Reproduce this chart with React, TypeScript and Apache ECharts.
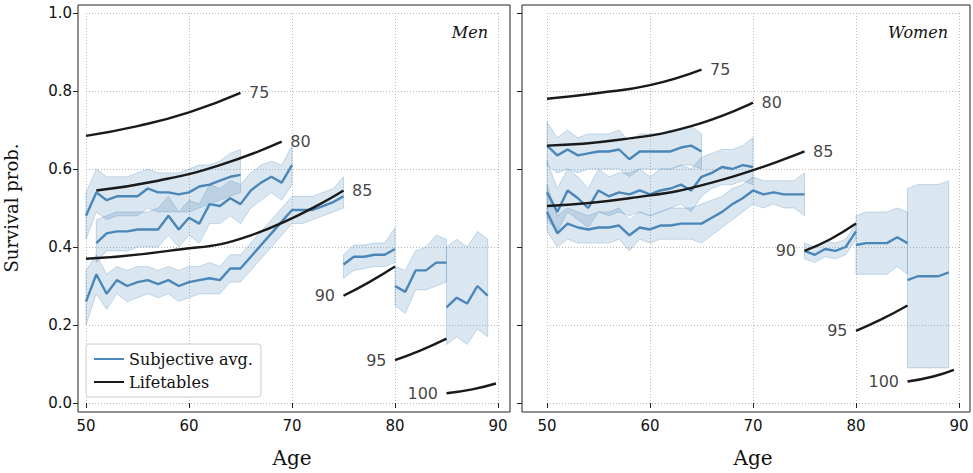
import { useEffect, useRef } from 'react'
import * as echarts from 'echarts'

// subjective averages, one group per target age; start = first age
const menStarts = [50, 51, 50, 75, 80, 85]
const menAvg = [
  [0.48, 0.54, 0.52, 0.53, 0.53, 0.53, 0.55, 0.54, 0.54, 0.535, 0.54, 0.555, 0.56, 0.57, 0.58, 0.585],
  [0.41, 0.435, 0.44, 0.44, 0.445, 0.445, 0.445, 0.48, 0.445, 0.475, 0.46, 0.51, 0.505, 0.525, 0.51, 0.545, 0.565, 0.58, 0.565, 0.61],
  [0.26, 0.33, 0.28, 0.315, 0.3, 0.31, 0.315, 0.305, 0.315, 0.3, 0.31, 0.315, 0.32, 0.315, 0.345, 0.345, 0.375, 0.405, 0.435, 0.465, 0.495, 0.495, 0.495, 0.505, 0.515, 0.53],
  [0.355, 0.375, 0.375, 0.38, 0.38, 0.395],
  [0.3, 0.285, 0.34, 0.34, 0.36, 0.36],
  [0.245, 0.27, 0.255, 0.3, 0.275],
]
const menLo = [
  [0.42, 0.49, 0.47, 0.48, 0.48, 0.48, 0.5, 0.49, 0.49, 0.49, 0.49, 0.5, 0.51, 0.52, 0.53, 0.54],
  [0.36, 0.39, 0.39, 0.39, 0.4, 0.4, 0.4, 0.43, 0.4, 0.43, 0.41, 0.46, 0.46, 0.48, 0.46, 0.5, 0.52, 0.54, 0.52, 0.56],
  [0.2, 0.28, 0.24, 0.28, 0.26, 0.27, 0.28, 0.27, 0.28, 0.26, 0.27, 0.28, 0.28, 0.28, 0.31, 0.31, 0.34, 0.37, 0.4, 0.43, 0.46, 0.46, 0.47, 0.48, 0.49, 0.5],
  [0.32, 0.34, 0.345, 0.35, 0.35, 0.36],
  [0.25, 0.23, 0.29, 0.29, 0.3, 0.31],
  [0.15, 0.17, 0.15, 0.19, 0.17],
]
const menHi = [
  [0.54, 0.6, 0.58, 0.58, 0.58, 0.59, 0.6, 0.59, 0.59, 0.59, 0.6, 0.61, 0.61, 0.62, 0.64, 0.65],
  [0.47, 0.48, 0.49, 0.49, 0.49, 0.49, 0.5, 0.53, 0.49, 0.52, 0.51, 0.56, 0.55, 0.57, 0.56, 0.59, 0.61, 0.62, 0.61, 0.66],
  [0.34, 0.38, 0.33, 0.35, 0.34, 0.35, 0.35, 0.34, 0.35, 0.34, 0.35, 0.35, 0.36, 0.35, 0.38, 0.38, 0.41, 0.44, 0.47, 0.5, 0.53, 0.53, 0.53, 0.54, 0.55, 0.58],
  [0.38, 0.405, 0.405, 0.41, 0.41, 0.45],
  [0.35, 0.34, 0.39, 0.4, 0.43, 0.42],
  [0.4, 0.42, 0.4, 0.44, 0.42],
]

const womenStarts = [50, 50, 50, 75, 80, 85]
const womenAvg = [
  [0.66, 0.635, 0.65, 0.635, 0.64, 0.645, 0.645, 0.65, 0.625, 0.645, 0.645, 0.645, 0.645, 0.655, 0.66, 0.645],
  [0.54, 0.49, 0.545, 0.525, 0.5, 0.545, 0.53, 0.54, 0.535, 0.545, 0.535, 0.545, 0.55, 0.56, 0.545, 0.58, 0.59, 0.605, 0.6, 0.61, 0.605],
  [0.49, 0.435, 0.46, 0.45, 0.445, 0.45, 0.45, 0.455, 0.43, 0.45, 0.445, 0.455, 0.455, 0.46, 0.46, 0.46, 0.475, 0.49, 0.51, 0.525, 0.545, 0.535, 0.54, 0.535, 0.535, 0.535],
  [0.39, 0.38, 0.395, 0.39, 0.4, 0.44],
  [0.405, 0.41, 0.41, 0.41, 0.425, 0.41],
  [0.315, 0.325, 0.325, 0.325, 0.335],
]
const womenLo = [
  [0.61, 0.59, 0.6, 0.59, 0.6, 0.6, 0.6, 0.6, 0.58, 0.6, 0.6, 0.6, 0.6, 0.61, 0.61, 0.6],
  [0.47, 0.44, 0.49, 0.47, 0.45, 0.49, 0.48, 0.49, 0.48, 0.49, 0.48, 0.49, 0.5, 0.51, 0.49, 0.53, 0.55, 0.56, 0.56, 0.57, 0.56],
  [0.44, 0.4, 0.42, 0.41, 0.41, 0.41, 0.41, 0.42, 0.39, 0.42, 0.41, 0.42, 0.42, 0.42, 0.42, 0.41, 0.43, 0.45, 0.47, 0.49, 0.51, 0.5, 0.51, 0.5, 0.5, 0.48],
  [0.37, 0.36, 0.375, 0.37, 0.38, 0.42],
  [0.33, 0.33, 0.33, 0.33, 0.35, 0.33],
  [0.09, 0.09, 0.09, 0.09, 0.09],
]
const womenHi = [
  [0.72, 0.68, 0.7, 0.68, 0.69, 0.69, 0.69, 0.7, 0.67, 0.69, 0.69, 0.69, 0.7, 0.7, 0.71, 0.69],
  [0.62, 0.55, 0.6, 0.58, 0.55, 0.6, 0.58, 0.59, 0.59, 0.6, 0.58, 0.6, 0.6, 0.61, 0.6, 0.63, 0.64, 0.65, 0.65, 0.66, 0.68],
  [0.56, 0.48, 0.5, 0.49, 0.48, 0.49, 0.49, 0.5, 0.47, 0.49, 0.48, 0.49, 0.5, 0.5, 0.5, 0.51, 0.52, 0.53, 0.55, 0.56, 0.58, 0.57, 0.57, 0.57, 0.57, 0.59],
  [0.41, 0.4, 0.415, 0.41, 0.42, 0.46],
  [0.48, 0.49, 0.49, 0.49, 0.5, 0.49],
  [0.55, 0.56, 0.56, 0.56, 0.57],
]

// lifetable curves
const lifeLabels = ['75', '80', '85', '90', '95', '100']
const menLifeAges = [[50, 55, 60, 65], [51, 57, 63, 69], [50, 58, 66, 75], [75, 77.5, 80], [80, 82.5, 85], [85, 87.5, 89.8]]
const menLifeVals = [[0.685, 0.71, 0.745, 0.795], [0.545, 0.57, 0.61, 0.67], [0.37, 0.39, 0.43, 0.545], [0.275, 0.31, 0.35], [0.11, 0.135, 0.165], [0.025, 0.035, 0.05]]
const womenLifeAges = [[50, 55, 60, 65], [50, 57, 64, 70], [50, 58, 66, 75], [75, 77.5, 80], [80, 82.5, 85], [85, 87.5, 89.5]]
const womenLifeVals = [[0.78, 0.795, 0.815, 0.855], [0.66, 0.675, 0.71, 0.77], [0.505, 0.525, 0.565, 0.645], [0.39, 0.42, 0.46], [0.185, 0.215, 0.25], [0.055, 0.068, 0.085]]

const BLUE = '#4a86b8'
const sans = 'DejaVu Sans'
const serif = 'DejaVu Serif'

const buildSeries = (p: number, starts: number[], avg: number[][], lo: number[][], hi: number[][], lAges: number[][], lVals: number[][]) => {
  const out: any[] = []
  const ax = { xAxisIndex: p, yAxisIndex: p, silent: true }
  avg.forEach((vals, g) => {
    const a = (i: number) => starts[g] + i
    const band = lo[g].map((v, i) => [a(i), v, hi[g][i]])
    out.push({
      ...ax, type: 'custom', name: `band${p}${g}`, data: band, z: 1,
      encode: { x: 0, y: [1, 2] },
      renderItem: (params: any, api: any) => {
        if (params.dataIndex !== 0) return null
        const top = band.map((d) => api.coord([d[0], d[2]]))
        const bot = band.map((d) => api.coord([d[0], d[1]])).reverse()
        return {
          type: 'polygon', shape: { points: [...top, ...bot] },
          style: { fill: 'rgba(70,130,180,0.2)', stroke: 'rgba(74,134,184,0.35)', lineWidth: 0.8 },
        }
      },
    })
    out.push({ ...ax, type: 'line', name: 'Subjective avg.', symbol: 'none', data: vals.map((v, i) => [a(i), v]), lineStyle: { color: BLUE, width: 2.4 }, itemStyle: { color: BLUE }, z: 3 })
  })
  lAges.forEach((ages, g) => {
    const left = g >= 3
    const data = ages.map((x, i) => [x, lVals[g][i]])
    out.push({ ...ax, type: 'line', name: 'Lifetables', symbol: 'none', smooth: true, data, lineStyle: { color: '#1a1a1a', width: 2.4 }, itemStyle: { color: '#1a1a1a' }, z: 4 })
    const end = left ? data[0] : data[data.length - 1]
    out.push({
      ...ax, type: 'scatter', name: `lab${p}${g}`, data: [end], symbolSize: 1, itemStyle: { color: 'rgba(0,0,0,0)' }, z: 5,
      label: { show: true, formatter: lifeLabels[g], position: left ? 'left' : 'right', distance: 8, color: '#111', fontFamily: sans, fontSize: 16 },
    })
  })
  return out
}

export default function App() {
  const ref = useRef<HTMLDivElement>(null)
  useEffect(() => {
    if (!ref.current) return
    const chart = echarts.init(ref.current, undefined, { renderer: 'svg' })
    const split = { show: true, lineStyle: { color: '#aaa', type: [1, 2], width: 0.8 } }
    const xAx = (i: number) => ({
      type: 'value', gridIndex: i, min: 50, max: 90, interval: 10, offset: 9,
      axisLine: { show: false }, axisTick: { show: true, length: 5, lineStyle: { color: '#222' } },
      axisLabel: { color: '#111', fontFamily: sans, fontSize: 15, margin: 6 },
      splitLine: split, name: 'Age', nameLocation: 'middle', nameGap: 36,
      nameTextStyle: { fontFamily: serif, fontSize: 20, color: '#111' },
    })
    const yAx = (i: number, off: number) => ({
      type: 'value', gridIndex: i, min: 0, max: 1, interval: 0.2, offset: off,
      axisLine: { show: false }, axisTick: { show: true, length: 5, lineStyle: { color: '#222' } },
      axisLabel: { show: i === 0, color: '#111', fontFamily: sans, fontSize: 15, margin: 6, formatter: (v: number) => v.toFixed(1) },
      splitLine: split,
      name: i === 0 ? 'Survival prob.' : '', nameLocation: 'middle', nameGap: 58,
      nameTextStyle: { fontFamily: serif, fontSize: 18, color: '#111' },
    })
    chart.setOption({
      animation: false,
      grid: [
        { left: 86, width: 412, top: 13, height: 390 },
        { left: 547, width: 412, top: 13, height: 390 },
      ],
      xAxis: [xAx(0), xAx(1)],
      yAxis: [yAx(0, 8), yAx(1, 25)],
      legend: {
        data: ['Subjective avg.', 'Lifetables'], orient: 'vertical', left: 86, top: 344,
        backgroundColor: '#fff', borderColor: '#ccc', borderWidth: 1, borderRadius: 3,
        padding: [7, 8, 7, 8], itemGap: 7, itemWidth: 30, itemHeight: 12, icon: 'path://M0,5H30V7H0Z',
        textStyle: { fontFamily: serif, fontSize: 16, color: '#111' },
      },
      graphic: [
        { type: 'rect', shape: { x: 78, y: 5, width: 432, height: 407 }, style: { fill: 'none', stroke: '#222', lineWidth: 1 }, silent: true },
        { type: 'rect', shape: { x: 522, y: 5, width: 448, height: 407 }, style: { fill: 'none', stroke: '#222', lineWidth: 1 }, silent: true },
        { type: 'text', x: 488, y: 24, style: { text: 'Men', fontFamily: serif, fontStyle: 'italic', fontSize: 16, fill: '#111', align: 'right' } },
        { type: 'text', x: 948, y: 24, style: { text: 'Women', fontFamily: serif, fontStyle: 'italic', fontSize: 16, fill: '#111', align: 'right' } },
      ],
      series: [
        ...buildSeries(0, menStarts, menAvg, menLo, menHi, menLifeAges, menLifeVals),
        ...buildSeries(1, womenStarts, womenAvg, womenLo, womenHi, womenLifeAges, womenLifeVals),
      ],
    })
    return () => chart.dispose()
  }, [])
  return <div ref={ref} style={{ position: 'absolute', left: 0, top: 0, width: 973, height: 473 }} />
}
